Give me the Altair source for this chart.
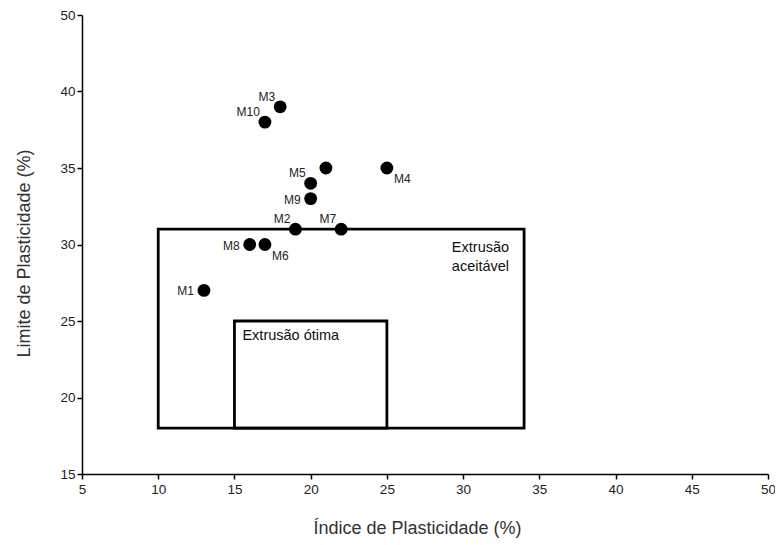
import altair as alt
import pandas as pd

# Data
labels = ["M1", "M2", "M3", "M4", "M5", "", "M6", "M7", "M8", "M9", "M10"]
ip = [13, 19, 18, 25, 20, 21, 17, 22, 16, 20, 17]
lp = [27, 31, 39, 35, 34, 35, 30, 31, 30, 33, 38]

zone_names = ["Extrusão aceitável", "Extrusão ótima"]
zone_x1 = [10, 15]
zone_x2 = [34, 25]
zone_y1 = [18, 18]
zone_y2 = [31, 25]

x_ticks = [5, 10, 15, 20, 25, 30, 35, 40, 45, 50]
y_ticks = [15, 20, 25, 30, 35, 40, 45]

placement = {"M1": "left", "M8": "left", "M9": "left",
             "M2": "upleft", "M3": "upleft", "M5": "upleft", "M7": "upleft", "M10": "upleft",
             "M4": "downright", "M6": "downright", "": "left"}

pts = pd.DataFrame({"label": labels, "ip": ip, "lp": lp})
pts["place"] = pts["label"].map(placement)
zones = pd.DataFrame({"name": zone_names, "x1": zone_x1, "x2": zone_x2, "y1": zone_y1, "y2": zone_y2})

FONT = "Liberation Sans"

xs = alt.Scale(domain=[5, 50], nice=False, zero=False)
ys = alt.Scale(domain=[15, 45], nice=False, zero=False)

xax = alt.Axis(values=x_ticks, title="Índice de Plasticidade (%)", grid=False, labelFlush=False,
               titleX=335, titleY=54, titleBaseline="middle", labelPadding=3)
yax = alt.Axis(values=y_ticks, title="Limite de Plasticidade (%)", grid=False, labelFlush=False,
               labelExpr="datum.value == 45 ? '50' : datum.label",
               titleX=-58, titleY=238, titleAngle=270, titleBaseline="middle",
               titleAlign="center", labelPadding=2)

rects = alt.Chart(zones).mark_rect(fillOpacity=0, stroke="black", strokeWidth=2.8).encode(
    x=alt.X("x1:Q", scale=xs, axis=xax),
    x2="x2:Q",
    y=alt.Y("y1:Q", scale=ys, axis=yax),
    y2="y2:Q",
)

acc = alt.Chart(zones[zones["name"] == "Extrusão aceitável"]).mark_text(
    align="right", baseline="middle", dx=-15, dy=19, fontSize=14.5, font=FONT,
    lineBreak="|", lineHeight=19, color="#111"
).transform_calculate(t="'Extrusão|aceitável'").encode(
    x=alt.X("x2:Q", scale=xs), y=alt.Y("y2:Q", scale=ys), text="t:N"
)

opt = alt.Chart(zones[zones["name"] == "Extrusão ótima"]).mark_text(
    align="left", baseline="middle", dx=8, dy=15, fontSize=14.5, font=FONT, color="#111"
).encode(
    x=alt.X("x1:Q", scale=xs), y=alt.Y("y2:Q", scale=ys), text="name:N"
)

points = alt.Chart(pts).mark_point(filled=True, shape="circle", size=165, color="black", opacity=1).encode(
    x=alt.X("ip:Q", scale=xs), y=alt.Y("lp:Q", scale=ys)
)

def lab(place, **kw):
    return alt.Chart(pts[pts["place"] == place]).mark_text(
        fontSize=12, font=FONT, color="#222", **kw
    ).encode(x=alt.X("ip:Q", scale=xs), y=alt.Y("lp:Q", scale=ys), text="label:N")

lab_left = lab("left", align="right", baseline="middle", dx=-10, dy=1)
lab_ul = lab("upleft", align="right", baseline="middle", dx=-5, dy=-10)
lab_dr = lab("downright", align="left", baseline="middle", dx=7, dy=11)

chart = alt.layer(rects, acc, opt, points, lab_left, lab_ul, lab_dr).properties(
    width=686, height=459,
    autosize=alt.AutoSizeParams(type="none"),
    padding={"left": 74, "top": 7, "right": 7, "bottom": 68},
).configure_view(stroke=None).configure_axis(
    domainColor="black", domainWidth=1.5, tickColor="black", tickWidth=1.5, tickSize=5,
    labelFont=FONT, labelFontSize=13.5, labelColor="#222",
    titleFont=FONT, titleFontSize=18, titleColor="#333", titleFontWeight="normal",
)

chart.save("out.html", embed_options={"renderer": "svg", "actions": False})
